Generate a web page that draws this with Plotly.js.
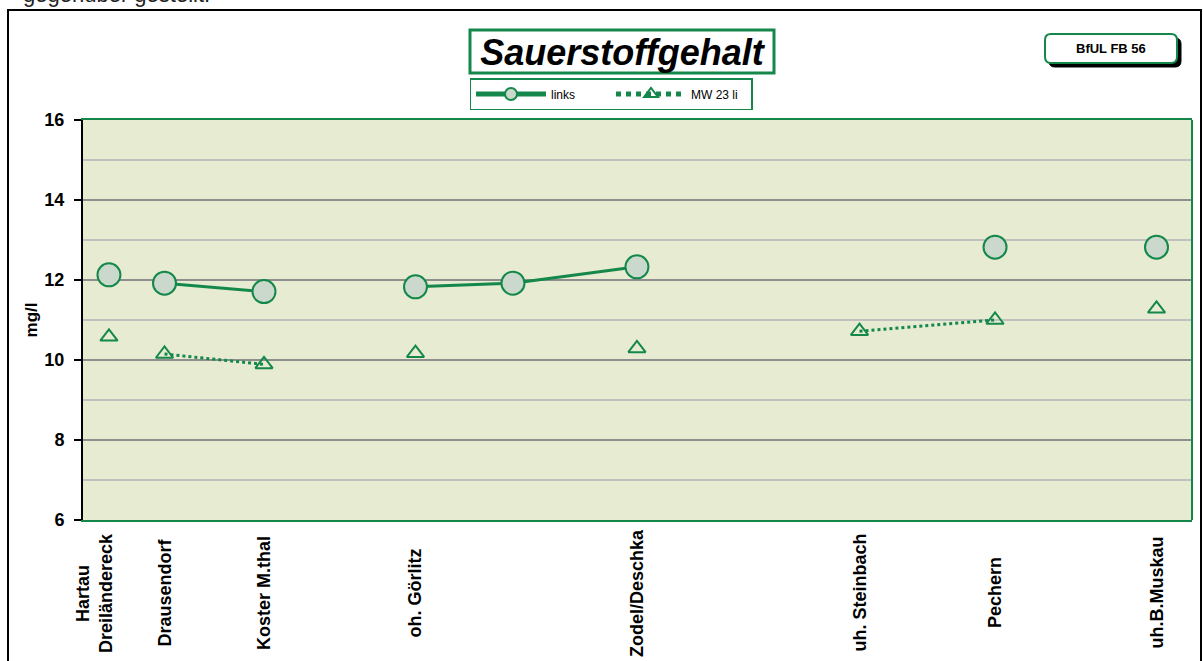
<!DOCTYPE html>
<html>
<head>
<meta charset="utf-8">
<script src="https://cdn.plot.ly/plotly-3.0.1.min.js"></script>
<style>html,body{margin:0;padding:0;background:#fff;}#chart{width:1203px;height:661px;}</style>
</head>
<body>
<div id="chart"></div>
<script>
// ---- data ----
const stationLabels = ["Hartau<br>Dreiländereck", "Drausendorf", "Koster M.thal", "oh. Görlitz", "", "Zodel/Deschka", "uh. Steinbach", "Pechern", "uh.B.Muskau"];
const stationPos = [2.34, 7.35, 16.32, 29.98, 38.77, 49.95, 70.02, 82.24, 96.80];
const linksValues = [12.13, 11.92, 11.71, 11.83, 11.92, 12.33, null, 12.82, 12.82];
const linksJoinPrev = [false, false, true, false, true, true, false, false, false];
const mw23Values = [10.58, 10.15, 9.89, 10.17, null, 10.29, 10.72, 11.0, 11.28];
const mw23JoinPrev = [false, false, true, false, false, false, false, true, false];
const yTickVals = [6, 8, 10, 12, 14, 16];

// ---- helpers ----
const GREEN = '#14884a';
const L = 83, T = 120, W = 1109, H = 400;
const px2x = p => (p - L) / W;
const py2y = p => (T + H - p) / H;

function buildSeries(xs, ys, join) {
  const X = [], Y = [];
  for (let i = 0; i < xs.length; i++) {
    if (i > 0 && !join[i]) { X.push(null); Y.push(null); }
    X.push(xs[i]); Y.push(ys[i]);
  }
  return {X, Y};
}
const s1 = buildSeries(stationPos, linksValues, linksJoinPrev);
const s2 = buildSeries(stationPos, mw23Values, mw23JoinPrev);

const traces = [
  {
    type: 'scatter', mode: 'lines+markers', name: 'links',
    x: s1.X, y: s1.Y, connectgaps: false,
    line: {color: GREEN, width: 3},
    marker: {symbol: 'circle', size: 23, color: '#cbd9cd', line: {color: GREEN, width: 2}},
    hoverinfo: 'y'
  },
  {
    type: 'scatter', mode: 'lines+markers', name: 'MW 23 li',
    x: s2.X, y: s2.Y, connectgaps: false,
    line: {color: GREEN, width: 3, dash: 'dot'},
    marker: {symbol: 'triangle-up', size: 15, color: 'rgba(0,0,0,0)', line: {color: GREEN, width: 2}},
    hoverinfo: 'y'
  }
];

const annotations = stationLabels.map((lab, i) => ({
  xref: 'x', yref: 'paper', x: stationPos[i], y: py2y(593),
  text: lab, textangle: -90, showarrow: false,
  xanchor: 'center', yanchor: 'middle',
  xshift: lab.indexOf('<br>') >= 0 ? -15 : 0,
  font: {family: 'Liberation Sans, Arial, sans-serif', size: 18, weight: 'bold', color: '#000'}
})).filter(a => a.text !== '');

annotations.push({
  xref: 'paper', yref: 'paper', x: px2x(1111), y: py2y(48.5),
  text: 'BfUL FB 56', showarrow: false, xanchor: 'center', yanchor: 'middle',
  font: {family: 'Liberation Sans, Arial, sans-serif', size: 13, weight: 'bold', color: '#000'}
});
annotations.push({
  xref: 'paper', yref: 'paper', x: px2x(21), y: py2y(-6),
  text: 'gegenüber gestellt.', showarrow: false, xanchor: 'left', yanchor: 'middle',
  font: {family: 'Liberation Sans, Arial, sans-serif', size: 22, color: '#222'}
});

function roundRect(x0, y0, x1, y1, r) {
  const X = px2x, Y = py2y;
  return `M${X(x0 + r)},${Y(y0)} L${X(x1 - r)},${Y(y0)} Q${X(x1)},${Y(y0)} ${X(x1)},${Y(y0 + r)} ` +
         `L${X(x1)},${Y(y1 - r)} Q${X(x1)},${Y(y1)} ${X(x1 - r)},${Y(y1)} ` +
         `L${X(x0 + r)},${Y(y1)} Q${X(x0)},${Y(y1)} ${X(x0)},${Y(y1 - r)} ` +
         `L${X(x0)},${Y(y0 + r)} Q${X(x0)},${Y(y0)} ${X(x0 + r)},${Y(y0)} Z`;
}

const shapes = [
  {type: 'rect', xref: 'paper', yref: 'paper', x0: px2x(8), x1: px2x(1201), y0: py2y(10), y1: py2y(680),
   line: {color: '#000', width: 2}, layer: 'below'},
  {type: 'line', xref: 'paper', yref: 'paper', x0: 1, x1: 1, y0: 0, y1: 1, line: {color: GREEN, width: 2}},
  {type: 'rect', xref: 'paper', yref: 'paper', x0: px2x(470), x1: px2x(774), y0: py2y(30), y1: py2y(73),
   line: {color: GREEN, width: 3}},
  {type: 'path', xref: 'paper', yref: 'paper', path: roundRect(1049, 38, 1181, 67, 6),
   fillcolor: '#000', line: {color: '#000', width: 1}},
  {type: 'path', xref: 'paper', yref: 'paper', path: roundRect(1045, 34, 1177, 63, 6),
   fillcolor: '#fff', line: {color: GREEN, width: 2}}
];

const layout = {
  width: 1203, height: 661,
  margin: {l: L, r: 1203 - L - W, t: T, b: 661 - T - H},
  paper_bgcolor: '#fff', plot_bgcolor: '#e6ebd2',
  font: {family: 'Liberation Sans, Arial, sans-serif', color: '#000'},
  title: {
    text: 'Sauerstoffgehalt', xref: 'paper', x: px2x(622), xanchor: 'center',
    yref: 'container', y: 1 - 52 / 661, yanchor: 'middle',
    font: {family: 'Liberation Sans, Arial, sans-serif', size: 36, weight: 'bold', style: 'italic', color: '#000'}
  },
  showlegend: true,
  legend: {
    orientation: 'h', xref: 'paper', yref: 'paper', x: px2x(611), xanchor: 'center', y: py2y(78), yanchor: 'top',
    bordercolor: GREEN, borderwidth: 1.5, bgcolor: '#fff',
    font: {size: 12, color: '#000'}, itemsizing: 'constant', itemwidth: 70, entrywidth: 55,
    traceorder: 'normal'
  },
  xaxis: {
    range: [0, 100], showgrid: false, zeroline: false, showticklabels: false, ticks: '',
    showline: true, linecolor: GREEN, linewidth: 2, mirror: true, fixedrange: true
  },
  yaxis: {
    range: [6, 16], tickvals: yTickVals, ticks: 'outside', ticklen: 7, tickwidth: 2, tickcolor: '#000',
    ticklabelstandoff: 6,
    tickfont: {size: 18, weight: 'bold', color: '#000'},
    showgrid: true, gridcolor: '#8e8e8e', gridwidth: 1.5, zeroline: false,
    minor: {dtick: 1, tick0: 6, showgrid: true, gridcolor: '#c0c0c0', gridwidth: 1.5, ticks: ''},
    showline: true, linecolor: '#000', linewidth: 2,
    title: {text: 'mg/l', standoff: 2, font: {size: 17, weight: 'bold', color: '#000'}},
    fixedrange: true
  },
  shapes: shapes,
  annotations: annotations
};

Plotly.newPlot('chart', traces, layout, {displayModeBar: false, staticPlot: true});
</script>
</body>
</html>
